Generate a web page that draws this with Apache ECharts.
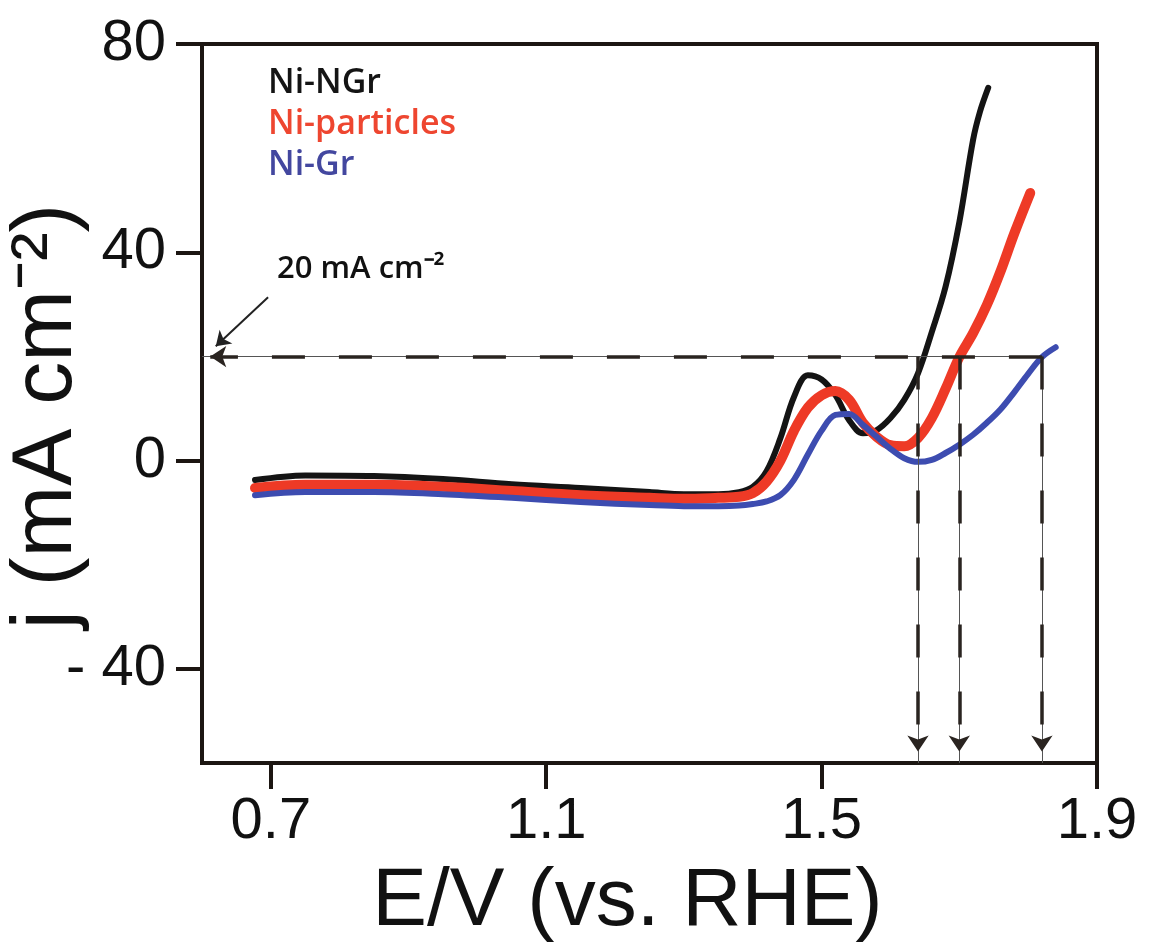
<!DOCTYPE html>
<html>
<head>
<meta charset="utf-8">
<script src="https://cdn.jsdelivr.net/npm/echarts@6/dist/echarts.min.js"></script>
<style>
html,body{margin:0;padding:0;background:#fff;}
#chart{width:1149px;height:947px;}
</style>
</head>
<body>
<div id="chart"></div>
<script>
// ---- data (E in V vs. RHE, j in mA cm^-2) ----
const seriesNames = ['Ni-NGr', 'Ni-particles', 'Ni-Gr'];

const E_NiNGr = [0.677, 0.75, 0.85, 0.95, 1.05, 1.15, 1.25, 1.30, 1.35, 1.38, 1.40, 1.42, 1.44, 1.46, 1.48, 1.50, 1.52, 1.54, 1.56, 1.58, 1.60, 1.62, 1.64, 1.66, 1.68, 1.70, 1.72, 1.73, 1.742];
const j_NiNGr = [-3.7, -2.8, -2.9, -3.5, -4.5, -5.2, -6.0, -6.4, -6.4, -6.0, -5.0, -2.0, 4.3, 12.3, 16.4, 15.6, 12.6, 7.8, 5.3, 5.9, 8.2, 11.7, 16.8, 24.7, 33.4, 45.8, 61.6, 67.0, 71.6];

const E_NiPart = [0.677, 0.75, 0.85, 0.95, 1.05, 1.15, 1.25, 1.30, 1.35, 1.38, 1.40, 1.42, 1.44, 1.46, 1.48, 1.50, 1.52, 1.54, 1.56, 1.58, 1.60, 1.62, 1.64, 1.66, 1.68, 1.70, 1.72, 1.74, 1.76, 1.78, 1.803];
const j_NiPart = [-5.2, -4.6, -4.6, -5.0, -5.8, -6.6, -7.1, -7.3, -7.1, -6.9, -6.2, -4.0, 0.0, 5.8, 10.2, 12.6, 13.4, 11.7, 7.3, 4.6, 3.0, 2.8, 4.4, 8.2, 13.8, 19.9, 24.5, 29.9, 36.4, 43.7, 51.4];

const E_NiGr = [0.677, 0.75, 0.85, 0.95, 1.05, 1.15, 1.25, 1.30, 1.35, 1.38, 1.40, 1.42, 1.44, 1.46, 1.48, 1.50, 1.52, 1.54, 1.56, 1.58, 1.60, 1.62, 1.64, 1.66, 1.68, 1.70, 1.72, 1.74, 1.76, 1.78, 1.80, 1.82, 1.84];
const j_NiGr = [-6.6, -6.0, -6.0, -6.4, -7.1, -7.9, -8.5, -8.7, -8.7, -8.6, -8.3, -7.8, -6.6, -3.6, 1.2, 5.8, 8.8, 9.0, 6.9, 4.6, 2.3, 0.5, -0.2, 0.2, 1.5, 3.1, 5.0, 7.3, 9.9, 13.2, 16.7, 19.9, 21.8];

// 20 mA cm^-2 reference level and the potentials where each curve reaches it
const jTarget = 20;
const E_atTarget = [1.64, 1.70, 1.82];

const xTicks = [0.7, 1.1, 1.5, 1.9];
const yTicks = [-40, 0, 40, 80];

// ---- styling ----
const colors = ['#141414', '#ee3a26', '#3d4cb0'];
const legendColors = ['#141414', '#ee4630', '#43479f'];
const widths = [6, 10, 6];
const axisColor = '#1c1612';
const xMin = 0.6, xMax = 1.9, yMin = -58, yMax = 80;

function zip(a, b) { return a.map((v, i) => [v, b[i]]); }
const dataSets = [zip(E_NiNGr, j_NiNGr), zip(E_NiPart, j_NiPart), zip(E_NiGr, j_NiGr)];

const dashStyle = { color: '#2a2420', width: 3.5, type: [33, 34] };
const thinStyle = { color: '#555', width: 1, type: 'solid' };

const markData = [];
const hEnd = E_atTarget[E_atTarget.length - 1];
markData.push([{ coord: [xMin, jTarget], symbol: 'none', lineStyle: thinStyle }, { coord: [hEnd, jTarget], symbol: 'none' }]);
markData.push([{ coord: [hEnd, jTarget], symbol: 'none', lineStyle: dashStyle }, { coord: [xMin + 0.012, jTarget], symbol: 'arrow', symbolSize: 16 }]);
E_atTarget.forEach(e => {
  markData.push([{ coord: [e, jTarget], symbol: 'none', lineStyle: thinStyle }, { coord: [e, yMin], symbol: 'none' }]);
  markData.push([{ coord: [e, jTarget], symbol: 'none', lineStyle: dashStyle }, { coord: [e, yMin + 2.2], symbol: 'arrow', symbolSize: 16 }]);
});
markData.push([{ coord: [0.696, 31.4], symbol: 'none', lineStyle: { color: '#222', width: 2, type: 'solid' } }, { coord: [0.62, 22.0], symbol: 'arrow', symbolSize: 14 }]);

const series = seriesNames.map((name, i) => ({
  name: name,
  type: 'line',
  data: dataSets[i],
  smooth: 0.35,
  showSymbol: false,
  symbol: 'none',
  lineStyle: { color: colors[i], width: widths[i], cap: 'round', join: 'round' },
  itemStyle: { color: colors[i] },
  emphasis: { disabled: true },
  z: [2, 3, 4][i]
}));
const ordered = [series[1], series[2], series[0]];
ordered[1].markLine = {
  silent: true,
  animation: false,
  label: { show: false },
  emphasis: { disabled: true },
  data: markData
};

const chart = echarts.init(document.getElementById('chart'), null, { renderer: 'canvas' });
chart.setOption({
  animation: false,
  backgroundColor: '#ffffff',
  grid: { left: 202, top: 44, right: 52, bottom: 184, containLabel: false, outerBoundsMode: 'none', show: true, borderColor: axisColor, borderWidth: 4, backgroundColor: 'transparent' },
  legend: {
    data: seriesNames.map((n, i) => ({ name: n, textStyle: { color: legendColors[i] } })),
    orient: 'vertical',
    left: 258,
    top: 58,
    icon: 'none',
    itemWidth: 0,
    itemHeight: 10,
    itemGap: 0,
    selectedMode: false,
    textStyle: { fontSize: 34, fontFamily: 'Open Sans', fontWeight: 600, lineHeight: 41 }
  },
  xAxis: {
    type: 'value',
    min: xMin,
    max: xMax,
    splitLine: { show: false },
    axisLine: { show: true, onZero: false, lineStyle: { color: axisColor, width: 4 } },
    axisTick: { show: true, customValues: xTicks, length: 26, lineStyle: { color: axisColor, width: 4 } },
    axisLabel: { customValues: xTicks, formatter: v => Number(v).toFixed(1), fontSize: 58, fontFamily: 'Liberation Sans', color: '#111', margin: 30 },
    name: 'E/V (vs. RHE)',
    nameLocation: 'middle',
    nameGap: 98,
    nameMoveOverlap: false,
    nameTextStyle: { fontSize: 82, fontFamily: 'Liberation Sans', color: '#111', padding: [0, 44, 0, 0] }
  },
  yAxis: {
    type: 'value',
    min: yMin,
    max: yMax,
    splitLine: { show: false },
    axisLine: { show: true, onZero: false, lineStyle: { color: axisColor, width: 4 } },
    axisTick: { show: true, customValues: yTicks, length: 26, lineStyle: { color: axisColor, width: 4 } },
    axisLabel: { customValues: yTicks, formatter: v => (v < 0 ? '- ' + Math.abs(v) : String(v)), fontSize: 58, fontFamily: 'Liberation Sans', color: '#111', margin: 36 },
    name: 'j (mA cm\u207B\u00B2)',
    nameLocation: 'middle',
    nameGap: 112,
    nameMoveOverlap: false,
    nameTextStyle: { fontSize: 86, fontFamily: 'Liberation Sans', color: '#111', padding: [0, 26, 0, 0] }
  },
  graphic: [{
    type: 'text',
    left: 277,
    top: 254,
    silent: true,
    style: { text: '20 mA cm\u207B\u00B2', fontSize: 31, fontFamily: 'Open Sans', fontWeight: 600, fill: '#111' }
  }],
  series: ordered
});
</script>
</body>
</html>
